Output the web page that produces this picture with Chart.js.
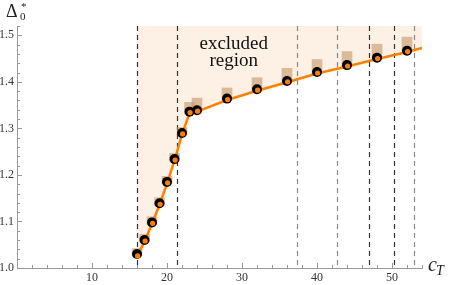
<!DOCTYPE html>
<html>
<head>
<meta charset="utf-8">
<script src="https://cdn.jsdelivr.net/npm/chart.js@4.4.1/dist/chart.umd.min.js"></script>
<style>
  html, body { margin: 0; padding: 0; background: #fff; }
  #wrap { width: 450px; height: 285px; position: relative; }
</style>
</head>
<body>
<div id="wrap"><canvas id="chart"></canvas></div>
<script>
// c_T values of the bootstrap points
const cT = [16, 17, 18, 19, 20, 21, 22, 23, 24, 28, 32, 36, 40, 44, 48, 52];
// black circles
const deltaBlack = [1.030, 1.060, 1.098, 1.139, 1.185, 1.234, 1.290, 1.336, 1.339, 1.364, 1.384, 1.402, 1.421, 1.436, 1.452, 1.467];
// orange line through the points (slightly below the black ones)
const deltaOrange = [1.025, 1.057, 1.095, 1.136, 1.182, 1.231, 1.287, 1.333, 1.336, 1.361, 1.381, 1.399, 1.418, 1.433, 1.449, 1.464];
// tan bars: upper ends
const deltaUpper = [1.042, 1.072, 1.110, 1.151, 1.197, 1.246, 1.302, 1.356, 1.365, 1.387, 1.409, 1.429, 1.448, 1.465, 1.481, 1.496];
// line end at right border
const lineEnd = { x: 54, y: 1.473 };
// vertical dashed lines
const dashX = [16.0, 21.3, 37.3, 42.7, 46.9, 50.3, 52.9];
const dashDark = [true, true, false, false, true, true, false];
const xTicks = [10, 20, 30, 40, 50];
const yTicks = [1.0, 1.1, 1.2, 1.3, 1.4, 1.5];

const serif = '"Liberation Serif", "DejaVu Serif", serif';

const orangeLine = cT.map((c, i) => ({ x: c, y: deltaOrange[i] }));
orangeLine.push(lineEnd);

// dashed lines, inward ticks and text labels
const extras = {
  id: 'extras',
  beforeDatasetsDraw(chart) {
    const { ctx, chartArea, scales } = chart;
    ctx.save();
    ctx.lineWidth = 1.2;
    ctx.setLineDash([5, 4]);
    dashX.forEach((v, i) => {
      const px = Math.round(scales.x.getPixelForValue(v)) + 0.5;
      ctx.strokeStyle = dashDark[i] ? '#333' : '#888';
      ctx.beginPath();
      ctx.moveTo(px, chartArea.top);
      ctx.lineTo(px, chartArea.bottom);
      ctx.stroke();
    });
    ctx.restore();
  },
  afterDraw(chart) {
    const { ctx, chartArea, scales } = chart;
    ctx.save();
    ctx.strokeStyle = '#999';
    ctx.lineWidth = 1;
    // x ticks
    for (let v = 2; v <= 54; v += 2) {
      const px = Math.round(scales.x.getPixelForValue(v)) + 0.5;
      const len = v % 10 === 0 ? 5 : 3;
      ctx.beginPath();
      ctx.moveTo(px, chartArea.bottom);
      ctx.lineTo(px, chartArea.bottom - len);
      ctx.stroke();
    }
    // y ticks
    for (let k = 1; k <= 26; k++) {
      const v = 1 + k * 0.02;
      const py = Math.round(scales.y.getPixelForValue(v)) + 0.5;
      const len = k % 5 === 0 ? 5 : 3;
      ctx.beginPath();
      ctx.moveTo(chartArea.left, py);
      ctx.lineTo(chartArea.left + len, py);
      ctx.stroke();
    }

    // "excluded region"
    ctx.fillStyle = '#111';
    ctx.textAlign = 'center';
    ctx.textBaseline = 'alphabetic';
    ctx.font = '19px ' + serif;
    const tx = scales.x.getPixelForValue(28.9);
    ctx.fillText('excluded', tx, scales.y.getPixelForValue(1.470));
    ctx.fillText('region', tx, scales.y.getPixelForValue(1.433));

    // axis labels
    ctx.textAlign = 'left';
    ctx.fillStyle = '#222';
    ctx.font = '18px ' + serif;
    ctx.fillText('Δ', 6, 17);
    ctx.font = '11px ' + serif;
    ctx.fillText('0', 20, 20);
    ctx.fillText('*', 21, 10);

    ctx.font = 'italic 20px ' + serif;
    ctx.fillText('c', 428, 271);
    ctx.font = 'italic 14px ' + serif;
    ctx.fillText('T', 436, 275);
    ctx.restore();
  }
};

new Chart(document.getElementById('chart'), {
  type: 'line',
  data: {
    datasets: [
      {
        type: 'line',
        data: orangeLine,
        borderColor: '#ff8000',
        borderWidth: 2.5,
        backgroundColor: 'rgba(253, 238, 225, 0.9)',
        fill: 'end',
        pointRadius: 0,
        tension: 0,
        order: 3
      },
      {
        type: 'bar',
        data: cT.map((c, i) => ({ x: c, y: [deltaBlack[i] - 0.004, deltaUpper[i]] })),
        backgroundColor: 'rgba(196, 150, 104, 0.6)',
        borderWidth: 0,
        barThickness: 10,
        order: 4
      },
      {
        type: 'scatter',
        data: cT.map((c, i) => ({ x: c, y: deltaBlack[i] })),
        pointRadius: 5,
        pointBackgroundColor: '#000',
        pointBorderWidth: 0,
        showLine: false,
        order: 2
      },
      {
        type: 'scatter',
        data: cT.map((c, i) => ({ x: c + 0.08, y: deltaOrange[i] + 0.001 })),
        pointRadius: 2.6,
        pointBackgroundColor: '#ff8000',
        pointBorderWidth: 0,
        showLine: false,
        order: 1
      }
    ]
  },
  plugins: [extras],
  options: {
    responsive: true,
    maintainAspectRatio: false,
    animation: false,
    layout: { padding: { top: 26, right: 28, left: 0, bottom: 0 } },
    plugins: {
      legend: { display: false },
      tooltip: { enabled: false },
      filler: { drawTime: 'beforeDatasetsDraw' }
    },
    scales: {
      x: {
        type: 'linear',
        min: 0,
        max: 54,
        offset: false,
        grid: { display: false, drawTicks: false },
        border: { display: true, color: '#999', width: 1 },
        afterFit: s => { s.height = 17; },
        afterBuildTicks: s => { s.ticks = xTicks.map(v => ({ value: v })); },
        ticks: {
          padding: 3,
          maxRotation: 0,
          color: '#333',
          font: { family: serif, size: 12 }
        }
      },
      y: {
        min: 1.0,
        max: 1.52,
        grid: { display: false, drawTicks: false },
        border: { display: true, color: '#999', width: 1 },
        afterFit: s => { s.width = 17; },
        afterBuildTicks: s => { s.ticks = yTicks.map(v => ({ value: v })); },
        ticks: {
          padding: 3,
          color: '#333',
          font: { family: serif, size: 12 },
          callback: v => v.toFixed(1)
        }
      }
    }
  }
});
</script>
</body>
</html>
